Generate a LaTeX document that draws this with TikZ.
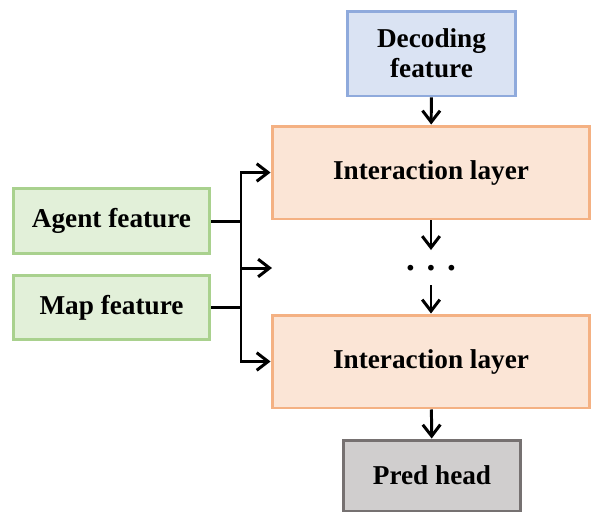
\documentclass[tikz,border=0pt]{standalone}
\usepackage{fontspec}
\setmainfont{Liberation Serif}
\usetikzlibrary{arrows.meta}
\definecolor{decfill}{HTML}{DAE3F3}
\definecolor{decline}{HTML}{8FAADC}
\definecolor{layfill}{HTML}{FBE5D6}
\definecolor{layline}{HTML}{F4B183}
\definecolor{featfill}{HTML}{E2F0D9}
\definecolor{featline}{HTML}{A9D18E}
\definecolor{headfill}{HTML}{D0CECE}
\definecolor{headline}{HTML}{767171}
\tikzset{
  box/.style={draw,line width=1.7pt,align=center,inner sep=0pt,
    font=\fontsize{15.5}{17}\selectfont\bfseries},
  decbox/.style={box,fill=decfill,draw=decline,minimum width=3.38cm,minimum height=1.7cm},
  laybox/.style={box,fill=layfill,draw=layline,minimum width=6.36cm,minimum height=1.86cm},
  featbox/.style={box,fill=featfill,draw=featline,minimum width=3.94cm,minimum height=1.29cm},
  headbox/.style={box,fill=headfill,draw=headline,minimum width=3.56cm,minimum height=1.42cm}
}

\begin{document}
\begin{tikzpicture}[>={Straight Barb[length=6.5pt,width=10pt]},line width=1.7pt,x=0.02cm,y=-0.02cm]
  \useasboundingbox (0,0) rectangle (615,525);
  % boxes
  \node[decbox] (dec) at (431.5,53.5) {Decoding\\feature};
  \node[laybox] (lay1) at (431,172.5) {Interaction layer};
  \node[laybox] (lay2) at (431,361.5) {Interaction layer};
  \node[headbox] (head) at (432,475.5) {Pred head};
  \node[featbox] (agent) at (111.5,221) {Agent feature};
  \node[featbox] (map) at (111.5,307.5) {Map feature};
  \node[font=\fontsize{20}{20}\selectfont\bfseries] (dots) at (431,268) {.\,\,.\,\,.};
  % branch on the left
  \coordinate (jtop) at (241,172.5);
  \coordinate (jbot) at (241,361.5);
  \coordinate (jmid) at (241,268);
  \coordinate (midtip) at (272,268);
  \draw (agent) -- (agent -| jtop);
  \draw (map) -- (map -| jtop);
  \draw[<->] (lay1.west) -- (jtop) -- (jbot) -- (lay2.west);
  \draw[->] (jmid) -- (midtip);
  % main column
  \coordinate (gapa) at (431,250);
  \coordinate (gapb) at (431,285);
  \draw[->] (dec) -- (lay1);
  \draw[->] (lay1) -- (gapa);
  \draw[->] (gapb) -- (lay2);
  \draw[->] (lay2) -- (head);
\end{tikzpicture}
\end{document}
